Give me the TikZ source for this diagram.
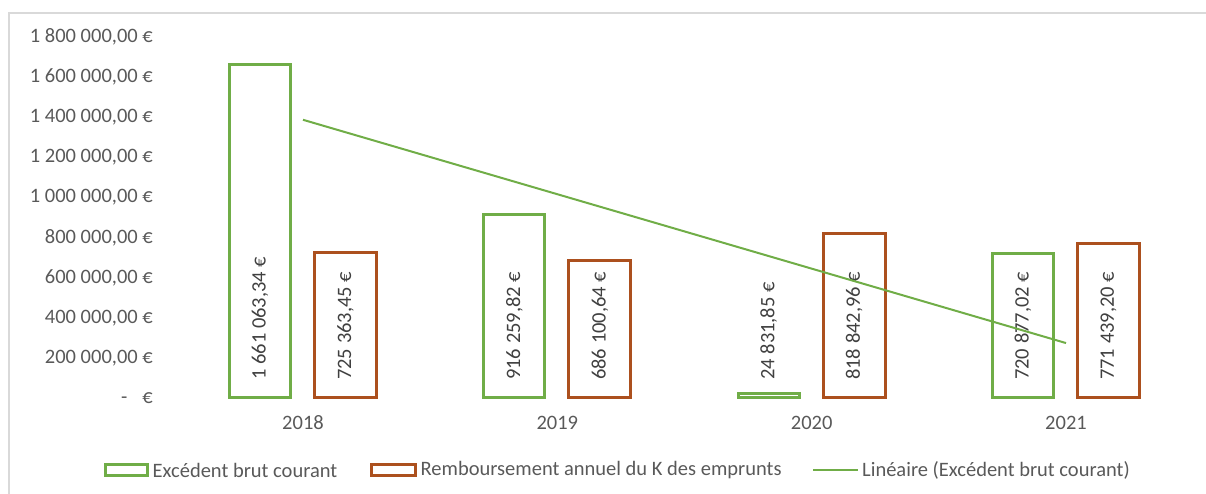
\documentclass[tikz,border=0pt]{standalone}
\usepackage{fontspec}
\setmainfont{Carlito}
\usetikzlibrary{positioning}
\definecolor{ebcgreen}{RGB}{112,173,71}
\definecolor{rembbrown}{RGB}{172,80,30}
\definecolor{axisgray}{RGB}{89,89,89}
\definecolor{labelgray}{RGB}{64,64,64}
\definecolor{framegray}{RGB}{217,217,217}

\begin{document}
\begin{tikzpicture}[x=1pt, y=1pt, font=\fontsize{20.5}{24}\selectfont,
  ebcbar/.style={draw=ebcgreen, line width=3pt},
  rembbar/.style={draw=rembbrown, line width=3pt},
  vallabel/.style={rotate=90, anchor=west, inner sep=0pt, text=labelgray},
  ticklabel/.style={anchor=east, inner sep=0pt, text=axisgray},
  legtext/.style={anchor=west, inner sep=0pt, text=axisgray}]
  \useasboundingbox (0,0) rectangle (1206,494);
  % Frame
  \draw[framegray, line width=1.5pt] (9,0) -- (9,481) -- (1206,481);

  % Axis labels
  \node[ticklabel] (tick0) at (153,96) {-\hspace{15pt}€};
  \foreach \k/\lab in {1/200 000, 2/400 000, 3/600 000, 4/800 000, 5/1 000 000,
                       6/1 200 000, 7/1 400 000, 8/1 600 000, 9/1 800 000}
    \node[ticklabel] (tick\k) at (153, 96+40.1*\k) {\lab,00 €};

  % Bars and values
  \foreach \i/\ebc/\remb/\ebctxt/\rembtxt/\yr in {
      0/1661.063/725.363/{1 661 063,34 €}/{725 363,45 €}/2018,
      1/916.260/686.101/{916 259,82 €}/{686 100,64 €}/2019,
      2/24.832/818.843/{24 831,85 €}/{818 842,96 €}/2020,
      3/720.877/771.439/{720 877,02 €}/{771 439,20 €}/2021} {
    \pgfmathsetmacro\cx{303+254.33*\i}
    \draw[ebcbar] (\cx-73.5,96) rectangle (\cx-12.5,{96+0.2005*\ebc});
    \draw[rembbar] (\cx+11.5,96) rectangle (\cx+73.5,{96+0.2005*\remb});
    \node[vallabel] (ebc\yr) at (\cx-43,114) {\ebctxt};
    \node[vallabel] (remb\yr) at (\cx+42.5,114) {\rembtxt};
    \node[text=axisgray] (year\yr) at (\cx,71) {\yr};
  }

  % Trend
  \coordinate (trendA) at (303,{96+0.2005*1387.557});
  \coordinate (trendB) at (1066,{96+0.2005*273.960});
  \draw[ebcgreen, line width=2pt] (trendA) -- (trendB);

  % Legend
  \node[ebcbar, minimum width=42pt, minimum height=11pt, inner sep=0pt] (keyebc) at (126.5,24) {};
  \node[legtext, right=3.5pt of keyebc] (legebc) {Excédent brut courant};
  \node[rembbar, minimum width=44pt, minimum height=11pt, inner sep=0pt] (keyremb) at (393.5,24) {};
  \node[legtext, right=3.5pt of keyremb] (legremb) {Remboursement annuel du K des emprunts};
  \coordinate (keyA) at (813,24);
  \coordinate (keyB) at (858,24);
  \draw[ebcgreen, line width=2.5pt] (keyA) -- (keyB);
  \node[legtext, right=4pt of keyB] (legtrend) {Linéaire (Excédent brut courant)};
\end{tikzpicture}
\end{document}
